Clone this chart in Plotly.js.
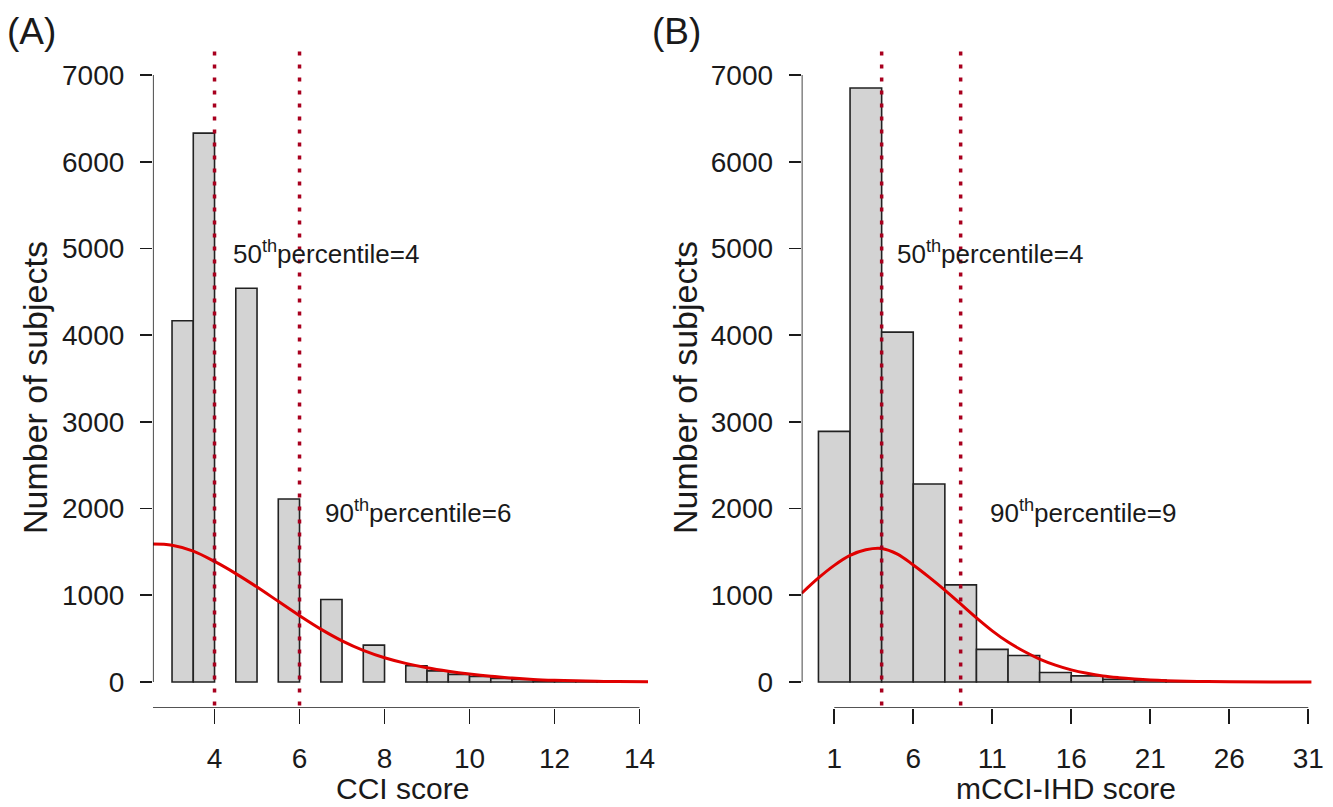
<!DOCTYPE html>
<html>
<head>
<meta charset="utf-8">
<script src="https://cdn.plot.ly/plotly-3.0.1.min.js"></script>
<style>html,body{margin:0;padding:0;background:#fff;}#chart{width:1333px;height:807px;}</style>
</head>
<body>
<div id="chart"></div>
<script>
// ---------- Data ----------
// Panel A: CCI score histogram (bin lower edges, bin width 0.5)
const cciBinLo = [3, 3.5, 4.5, 5.5, 6.5, 7.5, 8.5, 9, 9.5, 10, 10.5, 11, 11.5, 12, 12.5, 13];
const cciBinWidth = 0.5;
const cciCounts = [4165, 6330, 4540, 2110, 952, 425, 188, 128, 88, 63, 40, 30, 15, 10, 6, 3];
// Panel A: fitted curve
const cciCurveX = [2.55, 3, 3.5, 4, 4.5, 5, 5.5, 6, 6.5, 7, 7.5, 8, 8.5, 9, 9.5, 10, 10.5, 11, 11.5, 12, 12.5, 13, 13.5, 14.2];
const cciCurveY = [1592, 1578, 1510, 1390, 1250, 1095, 930, 765, 610, 475, 365, 280, 215, 165, 125, 92, 65, 45, 30, 20, 13, 8, 5, 3];
const cciPercentiles = [4, 6];
const cciTicks = [4, 6, 8, 10, 12, 14];

// Panel B: mCCI-IHD score histogram (bin lower edges, bin width 2)
const mcciBinLo = [0, 2, 4, 6, 8, 10, 12, 14, 16, 18, 20, 22];
const mcciBinWidth = 2;
const mcciCounts = [2890, 6850, 4035, 2283, 1120, 376, 305, 110, 70, 30, 22, 8];
// Panel B: fitted curve
const mcciCurveX = [-1.06, 0, 1, 2, 3, 4, 5, 6, 7, 8, 9, 10, 11, 12, 13, 14, 15, 16, 17, 18, 19, 20, 21, 22, 24, 26, 31.2];
const mcciCurveY = [1023, 1200, 1345, 1460, 1525, 1540, 1475, 1350, 1210, 1060, 900, 740, 590, 460, 355, 265, 195, 140, 100, 70, 50, 35, 23, 15, 6, 2, 0];
const mcciPercentiles = [4, 9];
const mcciTicks = [1, 6, 11, 16, 21, 26, 31];

const yTicks = [0, 1000, 2000, 3000, 4000, 5000, 6000, 7000];

// ---------- Layout helpers ----------
const W = 1333, H = 807;
const px = v => v / W;
const py = v => 1 - v / H;
const FONT = 'Liberation Sans, Arial, Helvetica, sans-serif';
const TXT = '#1a1a1a';
const BAR_FILL = '#d3d3d3';
const BAR_LINE = '#222222';
const CURVE = '#e00000';
const VLINE = '#a8001e';

function barTrace(lo, w, counts, xa, ya) {
  return {
    type: 'bar', xaxis: xa, yaxis: ya,
    x: lo.map(v => v + w / 2), y: counts, width: lo.map(() => w),
    marker: {color: BAR_FILL, line: {color: BAR_LINE, width: 1.6}},
    hoverinfo: 'x+y'
  };
}
function curveTrace(x, y, xa, ya) {
  return {
    type: 'scatter', mode: 'lines', xaxis: xa, yaxis: ya, x: x, y: y,
    line: {color: CURVE, width: 3, shape: 'spline', smoothing: 1}
  };
}

const data = [
  barTrace(cciBinLo, cciBinWidth, cciCounts, 'x', 'y'),
  curveTrace(cciCurveX, cciCurveY, 'x', 'y'),
  barTrace(mcciBinLo, mcciBinWidth, mcciCounts, 'x2', 'y2'),
  curveTrace(mcciCurveX, mcciCurveY, 'x2', 'y2')
];

const yDom = [py(708), py(50.7)];
const yRange = [-300, 7280];
const commonX = {
  ticks: 'outside', ticklen: 15, tickwidth: 1.6, tickcolor: TXT,
  showline: false, showgrid: false, zeroline: false, automargin: false,
  tickfont: {family: FONT, size: 28, color: TXT}, ticklabelstandoff: 10, fixedrange: true
};
const commonY = {
  range: yRange, domain: yDom, tickvals: yTicks, ticktext: yTicks.map(String),
  ticks: 'outside', ticklen: 12, tickwidth: 1.6, tickcolor: TXT,
  showline: false, showgrid: false, zeroline: false, automargin: false,
  tickfont: {family: FONT, size: 28, color: TXT}, ticklabelstandoff: 10, fixedrange: true
};

const xA = [2.55, 14.35], xB = [-1.06, 31.3];

const shapes = [];
function axisLines(xref, yref, xLeft, xFrom, xTo) {
  shapes.push({type: 'line', xref: xref, yref: yref, x0: xLeft, x1: xLeft, y0: 0, y1: 7000,
               line: {color: TXT, width: 1.6}, layer: 'above'});
  shapes.push({type: 'line', xref: xref, yref: yref, x0: xFrom, x1: xTo, y0: -300, y1: -300,
               line: {color: TXT, width: 1.6}, layer: 'above'});
}
axisLines('x', 'y', xA[0], xA[0], 14);
axisLines('x2', 'y2', xB[0], mcciTicks[0], mcciTicks[mcciTicks.length - 1]);
cciPercentiles.forEach(v => shapes.push({type: 'line', xref: 'x', yref: 'y', x0: v, x1: v, y0: -270, y1: 7280,
  line: {color: VLINE, width: 3.5, dash: '4px,9px'}, layer: 'above'}));
mcciPercentiles.forEach(v => shapes.push({type: 'line', xref: 'x2', yref: 'y2', x0: v, x1: v, y0: -270, y1: 7280,
  line: {color: VLINE, width: 3.5, dash: '4px,9px'}, layer: 'above'}));

function ann(text, x, y, size, opts) {
  return Object.assign({text: text, x: px(x), y: py(y), xref: 'paper', yref: 'paper', showarrow: false,
    font: {family: FONT, size: size, color: TXT}, xanchor: 'left', yanchor: 'middle', borderpad: 0}, opts || {});
}

const annotations = [
  ann('(A)', 6, 31, 37),
  ann('(B)', 651, 31, 37),
  ann('Number of subjects', 35, 388, 34, {textangle: -90, xanchor: 'center'}),
  ann('Number of subjects', 685, 388, 34, {textangle: -90, xanchor: 'center'}),
  ann('CCI score', 402, 806, 30, {xanchor: 'center', yanchor: 'bottom'}),
  ann('mCCI-IHD score', 1066, 806, 30, {xanchor: 'center', yanchor: 'bottom'}),
  ann('50<sup>th</sup>percentile=4', 232, 252, 26),
  ann('90<sup>th</sup>percentile=6', 324, 511, 26),
  ann('50<sup>th</sup>percentile=4', 896, 252, 26),
  ann('90<sup>th</sup>percentile=9', 989, 511, 26)
];

const layout = {
  width: W, height: H,
  margin: {l: 0, r: 0, t: 0, b: 0, pad: 0},
  paper_bgcolor: '#ffffff', plot_bgcolor: 'rgba(0,0,0,0)',
  showlegend: false, barmode: 'overlay', bargap: 0,
  font: {family: FONT, color: TXT},
  xaxis: Object.assign({}, commonX, {domain: [px(152.9), px(654.4)], range: xA, anchor: 'y',
    tickvals: cciTicks, ticktext: cciTicks.map(String)}),
  yaxis: Object.assign({}, commonY, {anchor: 'x'}),
  xaxis2: Object.assign({}, commonX, {domain: [px(801.7), px(1313)], range: xB, anchor: 'y2',
    tickvals: mcciTicks, ticktext: mcciTicks.map(String)}),
  yaxis2: Object.assign({}, commonY, {anchor: 'x2'}),
  shapes: shapes,
  annotations: annotations
};

Plotly.newPlot('chart', data, layout, {displayModeBar: false, staticPlot: true});
</script>
</body>
</html>
